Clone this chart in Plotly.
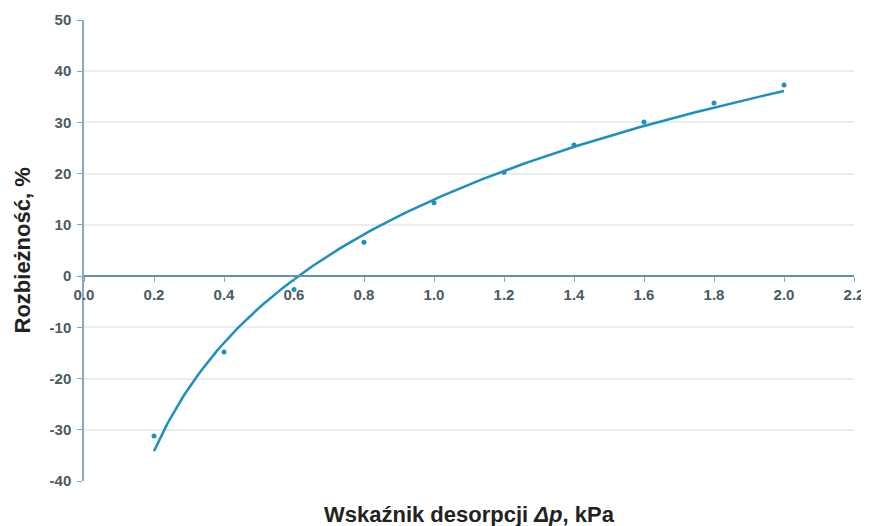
import numpy as np
import plotly.graph_objects as go

# data
x_vals = [0.2, 0.4, 0.6, 0.8, 1.0, 1.2, 1.4, 1.6, 1.8, 2.0]
y_vals = [-31.2, -14.8, -2.6, 6.6, 14.3, 20.3, 25.6, 30.1, 33.8, 37.3]
x_ticks = [0.0, 0.2, 0.4, 0.6, 0.8, 1.0, 1.2, 1.4, 1.6, 1.8, 2.0, 2.2]
x_tick_labels = ["0.0", "0.2", "0.4", "0.6", "0.8", "1.0", "1.2", "1.4", "1.6", "1.8", "2.0", "2.2"]
y_ticks = [-40, -30, -20, -10, 0, 10, 20, 30, 40, 50]
y_tick_labels = ["-40", "-30", "-20", "-10", "0", "10", "20", "30", "40", "50"]

# logarithmic trend line (least squares fit y = a ln x + b)
a, b = np.polyfit(np.log(x_vals), y_vals, 1)
xf = np.linspace(min(x_vals), max(x_vals), 200)
yf = a * np.log(xf) + b

col = "#1f8fbf"
font_fam = "Liberation Sans, Arial"
fig = go.Figure()
fig.add_trace(go.Scatter(x=xf, y=yf, mode="lines", line=dict(color=col, width=2.5),
                         hoverinfo="skip", showlegend=False))
fig.add_trace(go.Scatter(x=x_vals, y=y_vals, mode="markers",
                         marker=dict(color=col, size=5), showlegend=False))

tickfont = dict(family=font_fam, size=15, color="#4a5a63", weight="bold")

# page body adds an 8px offset; compensate in the figure size
W, H = 861, 518
L, R, T, B = 76, 15, 12, 45
pw = W - L - R
ph = H - T - B

fig.update_layout(
    width=W, height=H,
    margin=dict(l=L, r=R, t=T, b=B, autoexpand=False),
    paper_bgcolor="white", plot_bgcolor="white",
    xaxis=dict(range=[0, 2.2], tickvals=x_ticks, ticktext=x_tick_labels,
               showgrid=False, zeroline=False, showline=True,
               linecolor="#5f93ad", linewidth=1.5,
               ticks="outside", ticklen=5, tickcolor="#8aa9ba",
               anchor="free", position=4/9, tickfont=tickfont,
               ticklabeloverflow="allow", automargin=False),
    yaxis=dict(range=[-40, 50], tickvals=y_ticks, ticktext=y_tick_labels,
               showgrid=True, automargin=False,
               gridcolor="#e6eef2", gridwidth=1.5, zeroline=False,
               showline=True, linecolor="#8aa9ba", linewidth=1.5,
               ticks="outside", ticklen=5, tickcolor="#8aa9ba",
               ticklabelstandoff=3, tickfont=tickfont),
    annotations=[
        dict(text="<b>Wskaźnik desorpcji </b><b><i>Δp</i></b><b>, kPa</b>",
             x=0.5, xref="paper", y=-(506 - (H - B)) / ph, yref="paper",
             xanchor="center", yanchor="middle", showarrow=False,
             font=dict(family=font_fam, size=22, color="#222222")),
        dict(text="<b>Rozbieżność, %</b>", textangle=-90,
             x=(14 - L) / pw, xref="paper", y=0.5, yref="paper",
             xanchor="center", yanchor="middle", showarrow=False,
             font=dict(family=font_fam, size=22, color="#222222")),
    ],
)
fig.write_html("out.html")
